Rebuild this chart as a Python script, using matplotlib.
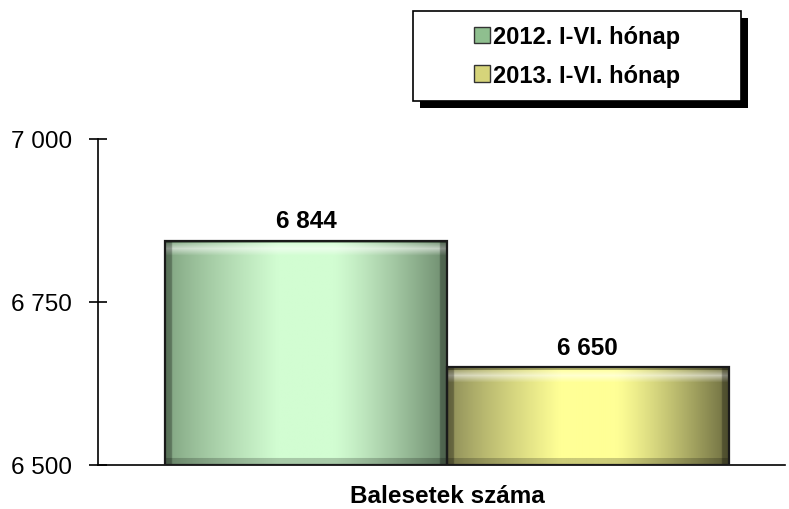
import numpy as np
import matplotlib
matplotlib.use("Agg")
import matplotlib.pyplot as plt
from matplotlib.patches import Patch, Rectangle

plt.rcParams['font.family'] = ['Liberation Sans', 'DejaVu Sans']

category = ["Balesetek száma"]
series_names = ["2012. I-VI. hónap", "2013. I-VI. hónap"]
values = [6844, 6650]
value_labels = ["6 844", "6 650"]
yticks = [6500, 6750, 7000]
ytick_labels = ["6 500", "6 750", "7 000"]

# gradient colours: (left edge, centre, right edge)
grad_colors = [
    ((125, 160, 125), (210, 253, 210), (110, 140, 110)),
    ((135, 135, 85), (255, 255, 150), (110, 110, 65)),
]
legend_colors = ["#8fbf8f", "#d6d47a"]

W, H = 789, 510
fig = plt.figure(figsize=(W / 100, H / 100), dpi=100)
ax = fig.add_axes([98 / W, 1 - 466 / H, (785 - 98) / W, (466 - 140) / H])

ax.set_xlim(-0.5, 0.5)
ax.set_ylim(6500, 7000)
bw = 0.41
offs = [-bw, 0.0]
base = 6500
px_per_unit = 326 / 500.0

for i, (v, off) in enumerate(zip(values, offs)):
    x0 = off + 0.008
    bars = ax.bar([x0], [v - base], bottom=base, width=bw, align='edge',
                  facecolor='none', edgecolor='#1a1a1a', linewidth=1.6, zorder=3)
    rect = bars[0]
    e, c, d = [np.array(t) / 255 for t in grad_colors[i]]
    n = 200
    t = np.linspace(0, 1, n)
    row = np.zeros((n, 3))
    for j, tt in enumerate(t):
        if tt < 0.4:
            col = e + (c - e) * (tt / 0.4) ** 0.8
        elif tt < 0.6:
            col = c
        else:
            col = c + (d - c) * ((tt - 0.6) / 0.4) ** 1.2
        row[j] = col
    hpx = int(round((v - base) * px_per_unit))
    img = np.tile(row, (hpx, 1, 1))
    # top bevel: soft light band below top edge
    for r in range(min(16, hpx)):
        if r < 3:
            img[r] = img[r] * 0.7
        else:
            w = max(0.0, 1 - abs(r - 8) / 7)
            img[r] = np.clip(img[r] * (1 - 0.55 * w) + 0.55 * w, 0, 1)
    # bottom shading
    for r in range(max(0, hpx - 7), hpx):
        img[r] = img[r] * 0.8
    # side shading
    img[:, :5] *= 0.7
    img[:, -5:] *= 0.7
    im = ax.imshow(img, extent=(x0, x0 + bw, base, v), aspect='auto', zorder=2,
                   interpolation='bilinear', origin='upper')
    im.set_clip_path(rect)
    ax.text(x0 + bw / 2, v + 13, value_labels[i], ha='center', va='bottom',
            fontsize=17.5, fontweight='bold', zorder=4)

ax.set_xlim(-0.5, 0.5)
ax.set_ylim(6500, 7000)

for s in ['top', 'right']:
    ax.spines[s].set_visible(False)
ax.spines['left'].set_linewidth(1.2)
ax.spines['bottom'].set_linewidth(1.2)
ax.set_yticks(yticks)
ax.set_yticklabels(ytick_labels, fontsize=17.5)
ax.tick_params(axis='y', direction='inout', length=13, width=1.2, pad=12)
ax.set_xticks([0.008])
ax.set_xticklabels(category, fontsize=17.5, fontweight='bold')
ax.tick_params(axis='x', length=0, pad=14)

# legend box with shadow
lx0, lx1, ly0, ly1 = 413, 741, 12, 102
fig.patches.append(Rectangle(((lx0 + 7) / W, 1 - (ly1 + 7) / H),
                             (lx1 - lx0) / W, (ly1 - ly0) / H,
                             transform=fig.transFigure, facecolor='black',
                             edgecolor='none', zorder=1))
fig.patches.append(Rectangle((lx0 / W, 1 - ly1 / H),
                             (lx1 - lx0) / W, (ly1 - ly0) / H,
                             transform=fig.transFigure, facecolor='white',
                             edgecolor='black', linewidth=1.2, zorder=2))
handles = [Patch(facecolor=legend_colors[k], edgecolor='#333333', linewidth=1)
           for k in range(2)]
leg = fig.legend(handles, series_names, loc='center',
                 bbox_to_anchor=((lx0 + lx1) / 2 / W, 1 - (ly0 + ly1) / 2 / H),
                 frameon=False,
                 prop={'weight': 'bold', 'size': 17},
                 handlelength=0.7, handleheight=0.7, handletextpad=0.12,
                 labelspacing=0.65, borderpad=0, borderaxespad=0)
leg.set_zorder(5)

fig.savefig("out.png", dpi=100)
